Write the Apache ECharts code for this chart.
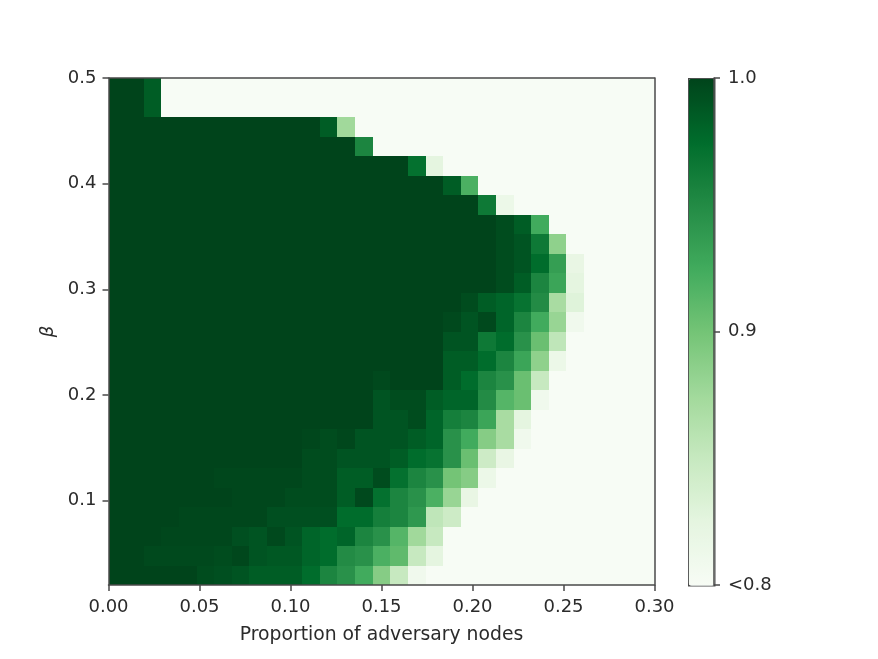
<!DOCTYPE html>
<html>
<head>
<meta charset="utf-8">
<style>html,body{margin:0;padding:0;background:#fff}#c{width:878px;height:659px}</style>
<script src="https://cdn.jsdelivr.net/npm/echarts@6/dist/echarts.min.js"></script>
</head>
<body>
<div id="c"></div>
<script>
// Proportion of adversary nodes (column bins)
const proportionBins = ['0.00','0.01','0.02','0.03','0.04','0.05','0.06','0.07','0.08','0.09','0.10','0.11','0.12','0.13','0.14','0.15','0.16','0.17','0.18','0.19','0.20','0.21','0.22','0.23','0.24','0.25','0.26','0.27','0.28','0.29','0.30'];
// beta (row bins), bottom to top
const betaBins = ['0.02','0.04','0.06','0.08','0.10','0.12','0.13','0.15','0.17','0.19','0.21','0.23','0.25','0.27','0.29','0.31','0.33','0.35','0.37','0.39','0.40','0.42','0.44','0.46','0.48','0.50'];
// Values, top row first; 0.8 stands for "<0.8"
const valuesTopDown = [
[1,1,.985,.8,.8,.8,.8,.8,.8,.8,.8,.8,.8,.8,.8,.8,.8,.8,.8,.8,.8,.8,.8,.8,.8,.8,.8,.8,.8,.8,.8],
[1,1,.985,.8,.8,.8,.8,.8,.8,.8,.8,.8,.8,.8,.8,.8,.8,.8,.8,.8,.8,.8,.8,.8,.8,.8,.8,.8,.8,.8,.8],
[1,1,1,1,1,1,1,1,1,1,1,1,.985,.875,.8,.8,.8,.8,.8,.8,.8,.8,.8,.8,.8,.8,.8,.8,.8,.8,.8],
[1,1,1,1,1,1,1,1,1,1,1,1,1,1,.955,.8,.8,.8,.8,.8,.8,.8,.8,.8,.8,.8,.8,.8,.8,.8,.8],
[1,1,1,1,1,1,1,1,1,1,1,1,1,1,1,1,1,.972,.825,.8,.8,.8,.8,.8,.8,.8,.8,.8,.8,.8,.8],
[1,1,1,1,1,1,1,1,1,1,1,1,1,1,1,1,1,1,1,.985,.92,.8,.8,.8,.8,.8,.8,.8,.8,.8,.8],
[1,1,1,1,1,1,1,1,1,1,1,1,1,1,1,1,1,1,1,1,1,.965,.815,.8,.8,.8,.8,.8,.8,.8,.8],
[1,1,1,1,1,1,1,1,1,1,1,1,1,1,1,1,1,1,1,1,1,1,.995,.985,.925,.8,.8,.8,.8,.8,.8],
[1,1,1,1,1,1,1,1,1,1,1,1,1,1,1,1,1,1,1,1,1,1,.995,.99,.965,.885,.8,.8,.8,.8,.8],
[1,1,1,1,1,1,1,1,1,1,1,1,1,1,1,1,1,1,1,1,1,1,.995,.99,.975,.935,.82,.8,.8,.8,.8],
[1,1,1,1,1,1,1,1,1,1,1,1,1,1,1,1,1,1,1,1,1,1,.995,.985,.955,.93,.825,.8,.8,.8,.8],
[1,1,1,1,1,1,1,1,1,1,1,1,1,1,1,1,1,1,1,1,.995,.985,.98,.97,.95,.87,.83,.8,.8,.8,.8],
[1,1,1,1,1,1,1,1,1,1,1,1,1,1,1,1,1,1,1,.997,.99,.997,.98,.955,.925,.88,.81,.8,.8,.8,.8],
[1,1,1,1,1,1,1,1,1,1,1,1,1,1,1,1,1,1,1,.99,.99,.965,.975,.945,.905,.855,.8,.8,.8,.8,.8],
[1,1,1,1,1,1,1,1,1,1,1,1,1,1,1,1,1,1,1,.985,.985,.975,.955,.93,.885,.815,.8,.8,.8,.8,.8],
[1,1,1,1,1,1,1,1,1,1,1,1,1,1,1,.997,1,1,1,.985,.975,.955,.945,.905,.85,.8,.8,.8,.8,.8,.8],
[1,1,1,1,1,1,1,1,1,1,1,1,1,1,1,.99,.995,.995,.985,.98,.98,.95,.915,.905,.81,.8,.8,.8,.8,.8,.8],
[1,1,1,1,1,1,1,1,1,1,1,1,1,1,1,.99,.99,.995,.98,.96,.955,.93,.87,.825,.8,.8,.8,.8,.8,.8,.8],
[1,1,1,1,1,1,1,1,1,1,1,.998,.995,.998,.99,.99,.99,.985,.98,.945,.925,.89,.87,.81,.8,.8,.8,.8,.8,.8,.8],
[1,1,1,1,1,1,1,1,1,1,1,.995,.995,.99,.99,.99,.985,.975,.97,.945,.905,.845,.82,.8,.8,.8,.8,.8,.8,.8,.8],
[1,1,1,1,1,1,.998,.998,.998,.998,.998,.995,.995,.985,.985,.995,.972,.955,.945,.9,.89,.815,.8,.8,.8,.8,.8,.8,.8,.8,.8],
[1,1,1,1,1,1,1,.998,.998,.998,.995,.995,.995,.985,.997,.972,.955,.945,.92,.88,.82,.8,.8,.8,.8,.8,.8,.8,.8,.8,.8],
[1,1,1,1,.998,.998,.998,.998,.998,.993,.993,.993,.993,.975,.975,.96,.955,.94,.855,.845,.8,.8,.8,.8,.8,.8,.8,.8,.8,.8,.8],
[1,1,1,.998,.998,.998,.998,.993,.99,.997,.99,.98,.975,.98,.955,.945,.915,.875,.85,.8,.8,.8,.8,.8,.8,.8,.8,.8,.8,.8,.8],
[1,1,.997,.997,.997,.997,.995,.998,.99,.988,.988,.98,.975,.95,.945,.92,.91,.85,.825,.8,.8,.8,.8,.8,.8,.8,.8,.8,.8,.8,.8],
[1,1,1,1,1,.995,.993,.99,.985,.985,.985,.975,.955,.945,.925,.89,.85,.81,.8,.8,.8,.8,.8,.8,.8,.8,.8,.8,.8,.8,.8]
];
const betaTicks = [0.1,0.2,0.3,0.4,0.5];
const colorbarTicks = [0.8,0.9,1.0];
const greens = ['#f7fcf5','#e5f5e0','#c7e9c0','#a1d99b','#74c476','#41ab5d','#238b45','#006d2c','#00441b'];

const cells = [];
valuesTopDown.forEach((row, r) => row.forEach((v, c) => cells.push([c, betaBins.length - 1 - r, v])));

const ink = '#2b2b2b', line = '#4a4a4a', font = 'DejaVu Sans', fs = 18;
const frame = {show: true, onZero: false, lineStyle: {color: line, width: 1.5}};
const tick = {show: true, length: 6, lineStyle: {color: line, width: 1.5}};
const lab = {color: ink, fontFamily: font, fontSize: fs};

const chart = echarts.init(document.getElementById('c'), null, {renderer: 'canvas'});
chart.setOption({
  animation: false,
  backgroundColor: '#ffffff',
  grid: [
    {left: 108.5, top: 78, width: 546, height: 507},
    {left: 688, top: 78, width: 26, height: 507}
  ],
  xAxis: [
    {type: 'category', gridIndex: 0, position: 'top', data: proportionBins, z: 6,
     axisLine: frame, axisTick: {show: false}, axisLabel: {show: false}, splitLine: {show: false}},
    {type: 'value', gridIndex: 0, position: 'bottom', min: 0, max: 0.3, interval: 0.05, z: 6,
     axisLine: frame, axisTick: tick, splitLine: {show: false},
     axisLabel: Object.assign({margin: 13, formatter: v => v.toFixed(2)}, lab),
     name: 'Proportion of adversary nodes', nameLocation: 'middle', nameGap: 41,
     nameTextStyle: Object.assign({}, lab, {fontSize: 18.8})},
    {type: 'value', gridIndex: 1, show: false, min: 0, max: 1}
  ],
  yAxis: [
    {type: 'category', gridIndex: 0, position: 'right', data: betaBins, z: 6,
     axisLine: frame, axisTick: {show: false}, axisLabel: {show: false}, splitLine: {show: false}},
    {type: 'value', gridIndex: 0, position: 'left', min: 0.02, max: 0.5, z: 6,
     axisLine: frame, splitLine: {show: false},
     axisTick: Object.assign({customValues: betaTicks}, tick),
     axisLabel: Object.assign({margin: 12, padding: [4, 0, 0, 0], customValues: betaTicks, formatter: v => v.toFixed(1)}, lab),
     name: 'β', nameLocation: 'middle', nameGap: 50, nameRotate: 90,
     nameTextStyle: Object.assign({fontStyle: 'italic'}, lab)},
    {type: 'value', gridIndex: 1, position: 'right', min: 0.8, max: 1.0, z: 6,
     axisLine: {show: true, onZero: false, lineStyle: {color: line, width: 1.5}},
     axisTick: Object.assign({customValues: colorbarTicks}, tick), splitLine: {show: false},
     axisLabel: Object.assign({margin: 14, padding: [4, 0, 0, 0], customValues: colorbarTicks, formatter: v => v <= 0.8001 ? '<0.8' : v.toFixed(1)}, lab)}
  ],
  visualMap: {
    type: 'continuous', seriesIndex: 0, dimension: 2, min: 0.8, max: 1.0,
    left: 688, top: 78, itemWidth: 26, itemHeight: 507, padding: 0,
    calculable: false, hoverLink: false, text: null, showLabel: false,
    borderColor: line, borderWidth: 1.5,
    inRange: {color: greens}
  },
  series: [{
    type: 'custom', xAxisIndex: 0, yAxisIndex: 0, data: cells, silent: true,
    encode: {x: 0, y: 1},
    renderItem: function (params, api) {
      const p = api.coord([api.value(0), api.value(1)]);
      const s = api.size([1, 1]);
      const x0 = Math.round(p[0] - s[0] / 2), x1 = Math.round(p[0] + s[0] / 2);
      const y0 = Math.round(p[1] - s[1] / 2), y1 = Math.round(p[1] + s[1] / 2);
      return {type: 'rect', shape: {x: x0, y: y0, width: x1 - x0, height: y1 - y0},
              style: {fill: api.visual('color')}};
    }
  }]
});
</script>
</body>
</html>
